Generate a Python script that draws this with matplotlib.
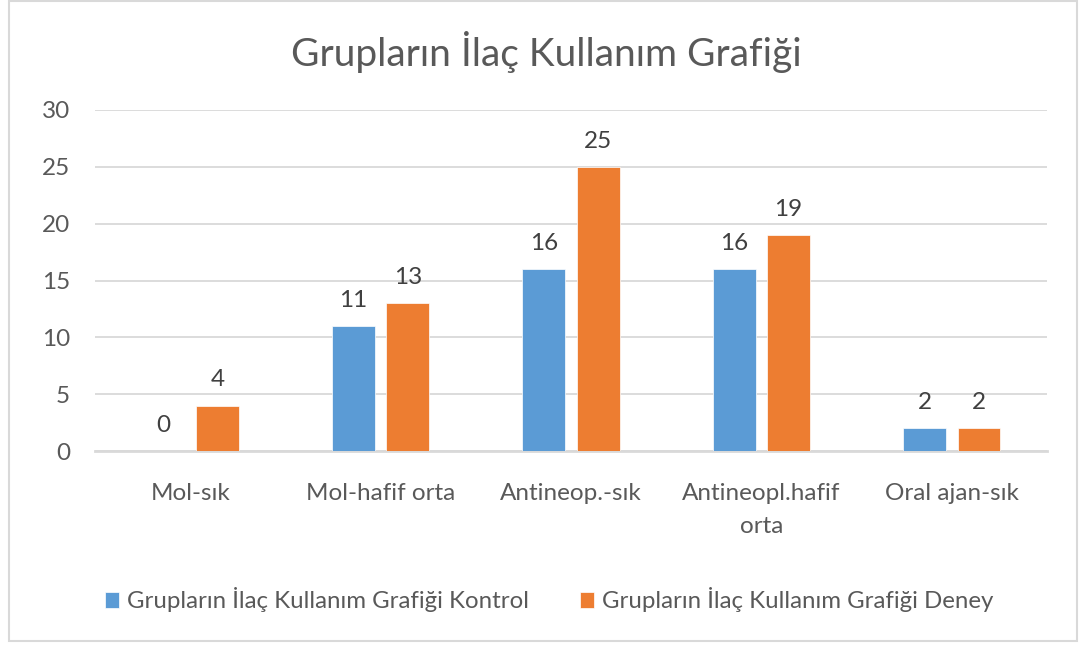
import matplotlib.pyplot as plt
import numpy as np
from matplotlib.patches import Rectangle

categories = ['Mol-sık', 'Mol-hafif orta', 'Antineop.-sık', 'Antineopl.hafif\norta', 'Oral ajan-sık']
kontrol = [0, 11, 16, 16, 2]
deney = [4, 13, 25, 19, 2]
series_names = ['Grupların İlaç Kullanım Grafiği Kontrol', 'Grupların İlaç Kullanım Grafiği Deney']
title = 'Grupların İlaç Kullanım Grafiği'

blue = '#5B9BD5'
orange = '#ED7D31'
txt = '#595959'
plt.rcParams['font.family'] = ['Lato', 'DejaVu Sans']

fig = plt.figure(figsize=(10.85, 6.46), dpi=100)
fig.patches.append(Rectangle((9 / 1085, 5 / 646), 1068 / 1085, 640 / 646, transform=fig.transFigure,
                             fill=False, edgecolor='#D9D9D9', lw=1.5))
ax = fig.add_axes([95 / 1085, 1 - 451 / 646, 952 / 1085, 341 / 646])

x = np.arange(len(categories))
w = 0.225
off = 0.03 + w / 2
b1 = ax.bar(x - off, kontrol, w, color=blue, edgecolor='white', lw=0.5, zorder=3)
b2 = ax.bar(x + off, deney, w, color=orange, edgecolor='white', lw=0.5, zorder=3)
for bars, vals in ((b1, kontrol), (b2, deney)):
    for r, v in zip(bars, vals):
        ax.annotate(str(v), (r.get_x() + r.get_width() / 2, v), xytext=(0, 11), textcoords='offset points',
                    ha='center', va='bottom', fontsize=17.5, color='#404040')

ax.set_xlim(-0.5, 4.5)
ax.set_ylim(0, 30)
ax.set_yticks(range(0, 31, 5))
ax.grid(axis='y', color='#D9D9D9', lw=1.3, zorder=0)
for s in ['top', 'right', 'left']:
    ax.spines[s].set_visible(False)
ax.spines['bottom'].set_color('#D9D9D9')
ax.spines['bottom'].set_linewidth(2)
ax.tick_params(length=0, labelsize=17.5, colors=txt)
ax.tick_params(axis='x', pad=23)
ax.tick_params(axis='y', pad=18)
ax.set_xticks(x)
ax.set_xticklabels(categories, va='top', linespacing=1.7)

fig.text(546 / 1085, 1 - 52 / 646, title, ha='center', va='center', fontsize=28, color=txt)
pos = ax.get_position()
ax.legend([b1, b2], series_names, loc='center', bbox_to_anchor=(0.477, (1 - 600 / 646 - pos.y0) / pos.height),
          ncol=2, frameon=False, fontsize=17.3, labelcolor=txt, handlelength=0.6, handleheight=0.6,
          handletextpad=0.33, columnspacing=2.1)

fig.savefig('out.png', dpi=100)
